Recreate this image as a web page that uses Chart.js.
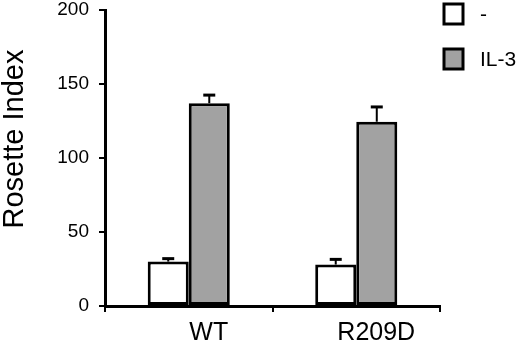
<!DOCTYPE html>
<html>
<head>
<meta charset="utf-8">
<script src="https://cdn.jsdelivr.net/npm/chart.js@4"></script>
<style>
  html, body { margin: 0; padding: 0; background: #fff; }
  #wrap { width: 520px; height: 353px; position: relative; }
</style>
</head>
<body>
<div id="wrap"><canvas id="chart"></canvas></div>
<script>
// data
const categories = ['WT', 'R209D'];
const seriesLabels = ['-', 'IL-3'];
const controlValues = [30, 28];
const il3Values = [137, 124.5];
const controlErrors = [2, 3.5];
const il3Errors = [5.5, 10];
const yTicks = [0, 50, 100, 150, 200];
const yTitle = 'Rosette Index';

const FONT = "'Liberation Sans', Arial, sans-serif";

// upward error bars with a cap
const errorBarPlugin = {
  id: 'errorBars',
  afterDatasetsDraw(chart) {
    const ctx = chart.ctx;
    const yScale = chart.scales.y;
    chart.data.datasets.forEach((ds, i) => {
      const meta = chart.getDatasetMeta(i);
      meta.data.forEach((bar, j) => {
        const top = yScale.getPixelForValue(ds.data[j] + ds.errors[j]);
        ctx.save();
        ctx.strokeStyle = '#000';
        ctx.lineWidth = 2;
        ctx.beginPath();
        ctx.moveTo(bar.x, bar.y);
        ctx.lineTo(bar.x, top);
        ctx.stroke();
        ctx.lineWidth = 3;
        ctx.beginPath();
        ctx.moveTo(bar.x - 6, top);
        ctx.lineTo(bar.x + 6, top);
        ctx.stroke();
        ctx.restore();
      });
    });
  }
};

// y title and legend placed like the figure
const extrasPlugin = {
  id: 'extras',
  afterDraw(chart) {
    const ctx = chart.ctx;
    ctx.save();
    ctx.fillStyle = '#000';
    ctx.font = `29px ${FONT}`;
    ctx.translate(15, 139);
    ctx.rotate(-Math.PI / 2);
    ctx.textAlign = 'center';
    ctx.textBaseline = 'middle';
    ctx.fillText(yTitle, 0, 0);
    ctx.restore();

    ctx.save();
    chart.data.datasets.forEach((ds, i) => {
      const y = 4 + i * 45;
      ctx.fillStyle = ds.backgroundColor;
      ctx.fillRect(444, y, 19, 20);
      ctx.strokeStyle = '#000';
      ctx.lineWidth = 3;
      ctx.strokeRect(444, y, 19, 20);
      ctx.fillStyle = '#000';
      ctx.font = `21px ${FONT}`;
      ctx.textBaseline = 'middle';
      ctx.textAlign = 'left';
      ctx.fillText(ds.label, 480, y + 11);
    });
    ctx.restore();
  }
};

new Chart(document.getElementById('chart'), {
  type: 'bar',
  data: {
    labels: categories,
    datasets: [
      {
        label: seriesLabels[0],
        data: controlValues,
        errors: controlErrors,
        backgroundColor: '#ffffff',
        borderColor: '#000000',
        borderWidth: 3,
        borderSkipped: false
      },
      {
        label: seriesLabels[1],
        data: il3Values,
        errors: il3Errors,
        backgroundColor: '#a2a2a2',
        borderColor: '#000000',
        borderWidth: 3,
        borderSkipped: false
      }
    ]
  },
  options: {
    responsive: true,
    maintainAspectRatio: false,
    animation: false,
    layout: { padding: { top: 10, right: 80, left: 0, bottom: 0 } },
    datasets: { bar: { categoryPercentage: 0.49, barPercentage: 1 } },
    plugins: {
      legend: { display: false },
      tooltip: { enabled: false }
    },
    scales: {
      x: {
        border: { color: '#000', width: 3 },
        grid: { drawOnChartArea: false, drawTicks: true, tickLength: 6, color: '#000', lineWidth: 2 },
        ticks: { color: '#000', font: { family: FONT, size: 25 }, padding: 6, labelOffset: 20 },
        afterFit(scale) {
          scale.height = 47;
          scale.paddingLeft = 0;
          scale.paddingRight = 0;
        }
      },
      y: {
        min: 0,
        max: 200,
        afterBuildTicks(scale) { scale.ticks = yTicks.map(v => ({ value: v })); },
        border: { color: '#000', width: 3 },
        grid: { drawOnChartArea: false, drawTicks: true, tickLength: 6, color: '#000', lineWidth: 2 },
        ticks: { color: '#000', font: { family: FONT, size: 19 }, padding: 10 },
        afterFit(scale) {
          scale.width = 105;
          scale.paddingTop = 0;
          scale.paddingBottom = 0;
        }
      }
    }
  },
  plugins: [errorBarPlugin, extrasPlugin]
});
</script>
</body>
</html>
